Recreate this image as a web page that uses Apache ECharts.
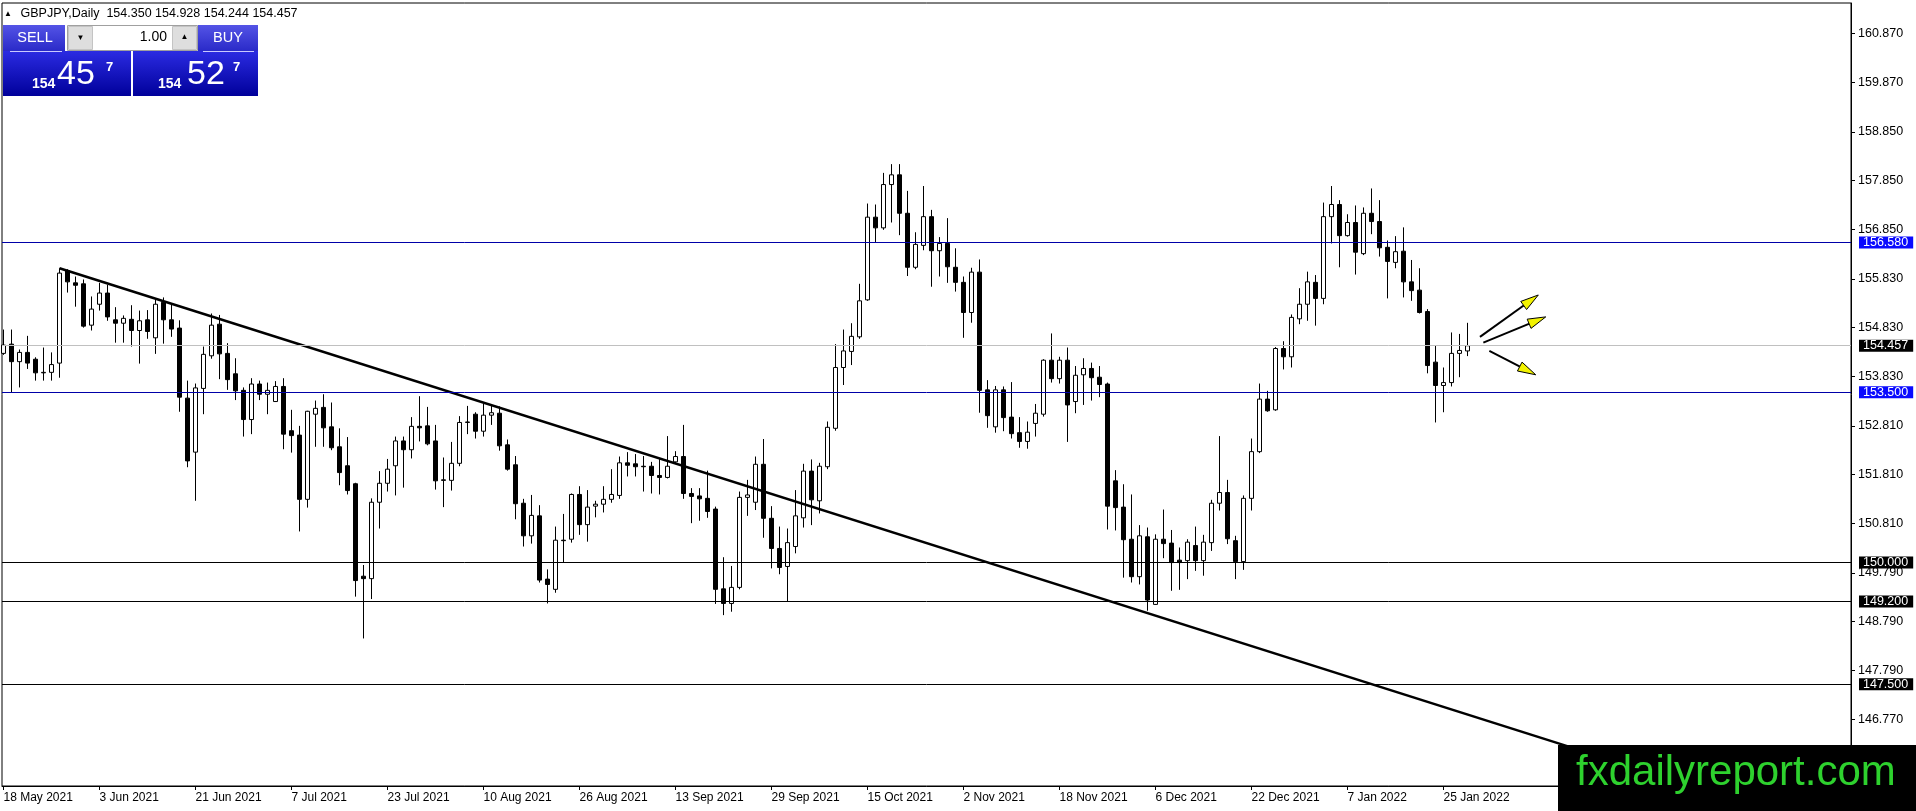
<!DOCTYPE html>
<html>
<head>
<meta charset="utf-8">
<script src="https://cdn.jsdelivr.net/npm/echarts@6/dist/echarts.min.js"></script>
<style>html,body{margin:0;padding:0;background:#fff;overflow:hidden}#chart{width:1916px;height:811px}</style>
</head>
<body>
<div id="chart"></div>
<script>
const symbolLabel = 'GBPJPY,Daily';
const xTickLabels = ['18 May 2021','3 Jun 2021','21 Jun 2021','7 Jul 2021','23 Jul 2021','10 Aug 2021','26 Aug 2021','13 Sep 2021','29 Sep 2021','15 Oct 2021','2 Nov 2021','18 Nov 2021','6 Dec 2021','22 Dec 2021','7 Jan 2022','25 Jan 2022'];
const barsPerTick = 12;
const yTickValues = [146.77,147.79,148.79,149.79,150.81,151.81,152.81,153.83,154.83,155.83,156.85,157.85,158.85,159.87,160.87];

const opens = [
154.30,154.49,154.13,154.32,154.18,153.90,153.91,154.10,156.00,155.75,
155.73,154.88,155.31,155.54,154.99,154.92,155.00,154.77,154.99,154.62,
155.35,154.99,154.82,153.38,152.27,153.58,154.25,154.90,154.30,153.88,
153.54,152.94,153.67,153.46,153.31,153.62,152.71,152.62,151.30,153.05,
153.19,152.79,152.38,151.99,151.62,149.72,149.67,151.24,151.63,151.99,
152.50,152.32,152.80,152.81,152.50,151.70,151.69,152.04,152.88,153.05,
152.70,153.03,153.07,152.42,152.01,151.22,150.55,150.96,149.66,149.45,
150.46,150.48,151.40,150.78,151.16,151.20,151.30,151.38,152.05,152.03,
151.98,151.98,151.79,151.75,152.07,152.18,151.42,151.37,151.32,151.10,
149.46,149.16,149.49,151.34,151.24,152.02,150.91,150.29,149.92,150.33,
150.92,151.88,151.27,151.97,152.76,154.01,154.34,154.64,155.40,157.10,
156.88,157.77,157.97,157.18,156.07,156.52,157.11,156.41,156.56,156.07,
155.76,155.14,155.97,153.55,152.79,153.55,152.99,152.67,152.49,152.86,
153.05,154.16,153.78,154.16,153.31,153.86,153.99,153.81,153.67,151.68,
151.14,150.48,149.71,150.53,149.14,150.48,150.40,150.05,150.04,150.35,
150.04,150.41,151.22,151.44,150.45,150.02,151.32,152.28,153.36,153.14,
154.40,154.23,155.01,155.31,155.76,155.43,157.11,157.36,156.72,156.99,
156.35,157.18,157.01,156.48,156.17,156.40,155.77,155.60,155.16,154.12,
153.64,153.70,154.30,154.350];
const highs = [
154.79,154.79,154.38,154.66,154.22,154.42,154.32,156.05,156.03,155.88,
155.82,155.47,155.75,155.71,155.25,155.08,155.29,155.18,155.19,155.41,
155.45,155.31,154.98,153.74,153.68,154.44,155.12,155.09,154.51,154.20,
153.60,153.79,153.74,153.70,153.73,153.79,153.14,152.81,153.12,153.33,
153.46,153.29,152.76,152.58,151.64,149.95,151.32,151.88,152.13,152.59,
152.59,152.99,153.42,153.20,152.83,152.16,152.48,153.01,153.22,153.09,
153.27,153.24,153.21,152.53,152.19,151.31,151.39,151.18,149.86,150.74,
151.00,151.42,151.57,151.49,151.27,151.57,151.92,152.18,152.27,152.23,
152.19,152.07,152.14,152.60,152.29,152.83,151.53,151.53,151.89,151.15,
150.11,149.93,151.46,151.70,152.18,152.54,151.16,150.74,150.70,151.49,
152.03,152.12,152.05,152.90,154.49,154.79,154.92,155.73,157.38,157.36,
158.01,158.19,158.19,157.64,156.79,157.74,157.25,156.69,157.08,156.46,
155.88,156.06,156.23,153.75,153.63,153.62,153.71,152.99,152.90,153.26,
154.18,154.71,154.23,154.42,154.04,154.20,154.11,154.04,153.70,151.90,
151.61,151.40,150.77,150.72,150.58,151.09,150.67,150.31,150.48,150.74,
150.57,151.29,152.60,151.70,150.55,151.38,152.55,153.68,153.53,154.43,
154.55,155.10,155.64,155.98,155.91,157.40,157.74,157.45,157.16,157.34,
157.30,157.69,157.45,156.62,156.71,156.89,156.22,156.05,155.21,154.47,
154.01,154.73,154.70,154.928];
const lows = [
154.27,153.50,153.60,153.98,153.74,153.74,153.74,153.80,155.55,155.26,
154.83,154.77,155.18,154.97,154.52,154.52,154.44,154.09,154.60,154.29,
154.50,154.64,153.10,151.96,151.27,153.05,154.19,153.77,153.55,153.34,
152.59,152.64,153.34,153.05,153.30,152.33,152.26,150.64,151.13,152.38,
152.38,152.31,151.59,151.40,149.30,148.44,149.25,150.70,151.46,151.38,
151.54,152.14,152.49,152.41,151.50,151.14,151.48,151.98,152.64,152.55,
152.59,152.83,152.30,151.89,150.89,150.33,150.39,149.59,149.16,149.38,
150.00,150.41,150.57,150.43,150.93,151.03,151.23,151.31,151.77,151.77,
151.46,151.42,151.40,151.73,152.04,151.31,150.81,150.86,150.92,149.15,
148.92,148.99,149.45,150.96,151.08,150.51,149.88,149.76,149.20,150.19,
150.72,150.77,151.01,151.92,152.71,153.65,154.06,154.60,155.38,156.59,
156.84,156.99,156.73,155.89,156.03,156.42,155.67,155.88,155.75,155.57,
154.62,154.93,153.08,152.77,152.67,152.70,152.55,152.36,152.34,152.59,
153.00,153.70,153.68,152.48,153.07,153.24,153.33,153.40,150.68,150.66,
149.69,149.59,149.55,149.01,149.13,150.09,149.42,149.44,149.66,149.83,
149.73,150.24,151.07,150.38,149.66,149.85,151.07,152.25,153.10,153.12,
153.97,154.01,154.90,154.97,154.87,155.31,156.56,156.07,156.70,155.92,
156.32,156.75,156.29,155.43,156.05,155.45,155.38,155.12,153.89,152.88,
153.09,153.62,153.81,154.244];
const closes = [
154.47,154.13,154.32,154.10,153.90,153.91,154.07,155.95,155.77,155.70,
154.86,155.21,155.54,155.05,154.92,155.02,154.77,154.97,154.75,155.31,
154.99,154.80,153.40,152.09,153.59,154.28,154.88,154.29,153.76,153.53,
152.94,153.67,153.46,153.54,153.62,152.64,152.61,151.30,153.11,153.17,
152.77,152.36,151.85,151.48,149.63,149.67,151.24,151.63,151.92,152.50,
152.32,152.80,152.77,152.44,151.68,151.69,152.04,152.88,152.89,152.70,
153.03,153.08,152.40,151.92,151.21,150.55,150.97,149.64,149.55,150.46,
150.45,151.40,150.78,151.14,151.20,151.30,151.40,152.05,152.00,151.97,
151.97,151.79,151.75,151.98,152.18,151.42,151.36,151.31,151.05,149.45,
149.16,149.49,151.34,151.39,152.02,150.91,150.29,149.90,150.41,150.96,
151.88,151.29,151.98,152.78,154.01,154.35,154.65,155.38,157.10,156.88,
157.77,157.97,157.18,156.07,156.54,157.11,156.41,156.56,156.08,155.76,
155.14,155.97,153.54,153.02,153.55,152.98,152.65,152.49,152.68,153.07,
154.16,153.78,154.16,153.24,153.85,153.99,153.80,153.66,151.16,151.13,
150.47,149.71,150.55,149.23,150.48,150.39,150.00,150.00,150.42,150.04,
150.42,151.22,151.44,150.49,150.02,151.32,152.28,153.36,153.12,154.40,
154.23,155.04,155.31,155.77,155.43,157.11,157.36,156.72,156.99,156.38,
157.18,157.01,156.47,156.19,156.39,155.77,155.59,155.14,154.05,153.64,
153.70,154.30,154.36,154.457];

const trendline = [[7, 156.05], [200, 145.99]];
const arrows = [
  [184.56, 154.64, 191.85, 155.50],
  [184.98, 154.52, 192.78, 155.05],
  [185.73, 154.35, 191.53, 153.86]
];
const blueLevels = [156.58, 153.5];
const blackLevels = [150.0, 149.2, 147.5];
const bidPrice = 154.457;
const askPrice = 154.527;
const lotSize = '1.00';
const watermark = 'fxdailyreport.com';

const FONT = '"Liberation Sans", Arial, sans-serif';
const candleData = opens.map((o, i) => [i, o, closes[i], lows[i], highs[i]]);
const xTickIdx = xTickLabels.map((_, i) => i * barsPerTick);
const last = opens.length - 1;
const headerText = symbolLabel + '  ' + [opens[last], highs[last], lows[last], closes[last]].map(v => v.toFixed(3)).join(' ');

function grad(a, b) {
  return new echarts.graphic.LinearGradient(0, 0, 0, 1, [{offset: 0, color: a}, {offset: 1, color: b}]);
}
function txt(x, y, text, size, opts) {
  opts = opts || {};
  return {type: 'text', x: x, y: y, z: 100, silent: true, style: {
    text: text, fill: opts.fill || '#fff',
    font: (opts.bold ? 'bold ' : '') + size + 'px ' + FONT,
    align: opts.align || 'left', textAlign: opts.align || 'left',
    verticalAlign: 'middle', textVerticalAlign: 'middle'
  }};
}
function rect(x, y, w, h, fill, stroke) {
  return {type: 'rect', z: 99, silent: true, shape: {x: x, y: y, width: w, height: h},
    style: {fill: fill, stroke: stroke || null, lineWidth: stroke ? 1 : 0}};
}
function priceParts(p) {
  const s = p.toFixed(3);
  return [s.slice(0, 3), s.slice(4, 6), s.slice(6)];
}
const bidP = priceParts(bidPrice), askP = priceParts(askPrice);

const graphics = [
  txt(8, 14, '▲', 8, {fill: '#000', align: 'center'}),
  txt(20.5, 14, headerText, 12.5, {fill: '#000'}),
  rect(3, 25, 62, 26, grad('#5454e6', '#2a2ac8')),
  rect(198, 25, 60, 26, grad('#5454e6', '#2a2ac8')),
  rect(3, 51, 128, 45, grad('#2b2be2', '#00009a')),
  rect(133, 51, 125, 45, grad('#2b2be2', '#00009a')),
  {type: 'line', z: 100, silent: true, shape: {x1: 10, y1: 51.5, x2: 62, y2: 51.5}, style: {stroke: '#c8c8ff', lineWidth: 1}},
  {type: 'line', z: 100, silent: true, shape: {x1: 203, y1: 51.5, x2: 254, y2: 51.5}, style: {stroke: '#c8c8ff', lineWidth: 1}},
  rect(67.5, 25.5, 130, 25, '#ffffff', '#a0a0a0'),
  rect(68.5, 26.5, 24, 23, '#dedede', '#c4c4c4'),
  rect(172.5, 26.5, 24, 23, '#dedede', '#c4c4c4'),
  txt(80.5, 38, '▼', 8, {fill: '#000', align: 'center'}),
  txt(184.5, 37, '▲', 8, {fill: '#000', align: 'center'}),
  txt(167, 37, lotSize, 14, {fill: '#000', align: 'right'}),
  txt(35, 38, 'SELL', 14.5, {align: 'center'}),
  txt(228, 38, 'BUY', 14.5, {align: 'center'}),
  txt(32, 84, bidP[0], 14, {bold: true}),
  txt(57, 75, bidP[1], 34),
  txt(106, 67, bidP[2], 13, {bold: true}),
  txt(158, 84, askP[0], 14, {bold: true}),
  txt(187, 75, askP[1], 34),
  txt(233, 67, askP[2], 13, {bold: true}),
  rect(1558, 745, 358, 66, '#000000'),
  txt(1576, 773, watermark, 42, {fill: '#2ed12e'})
];

const lineLabel = {
  show: true, position: 'end', distance: 8, color: '#fff',
  fontFamily: FONT, fontSize: 12.5, lineHeight: 12, padding: [0, 5, 0, 4],
  formatter: p => Number(p.data && p.data.yAxis != null ? p.data.yAxis : p.value).toFixed(3)
};
const levelLines = [].concat(
  blueLevels.map(v => ({yAxis: v, lineStyle: {color: '#0000a8', width: 1, type: 'solid'}, label: Object.assign({}, lineLabel, {backgroundColor: '#0a0aff'})})),
  [{yAxis: bidPrice, lineStyle: {color: '#c0c0c0', width: 1, type: 'solid'}, label: Object.assign({}, lineLabel, {backgroundColor: '#000'})}],
  blackLevels.map(v => ({yAxis: v, lineStyle: {color: '#000', width: 1, type: 'solid'}, label: Object.assign({}, lineLabel, {backgroundColor: '#000'})}))
);

const chart = echarts.init(document.getElementById('chart'), null, {renderer: 'canvas'});
chart.setOption({
  animation: false,
  backgroundColor: '#fff',
  grid: {left: 2, top: 3, width: 1849, height: 783, show: true, borderColor: '#000', borderWidth: 1, backgroundColor: '#fff', containLabel: false},
  xAxis: {
    type: 'value', min: -0.1875, max: 230.9375,
    axisLine: {show: true, onZero: false, lineStyle: {color: '#000', width: 1}},
    axisTick: {show: true, customValues: xTickIdx, length: 4, lineStyle: {color: '#000'}},
    axisLabel: {customValues: xTickIdx, formatter: v => xTickLabels[Math.round(v / barsPerTick)] || '',
      align: 'left', margin: 6, color: '#000', fontFamily: FONT, fontSize: 12},
    splitLine: {show: false}
  },
  yAxis: {
    type: 'value', position: 'right', min: 145.4075, max: 161.502,
    axisLine: {show: true, onZero: false, lineStyle: {color: '#000', width: 1}},
    axisTick: {show: true, customValues: yTickValues, length: 4, lineStyle: {color: '#000'}},
    axisLabel: {customValues: yTickValues, formatter: v => v.toFixed(3), margin: 7, color: '#000', fontFamily: FONT, fontSize: 12.5},
    splitLine: {show: false}
  },
  series: [
    {
      type: 'candlestick', data: candleData, barWidth: 4, silent: true,
      itemStyle: {color: '#fff', color0: '#000', borderColor: '#000', borderColor0: '#000', borderColorDoji: '#000', borderWidth: 1},
      markLine: {silent: true, precision: 3, symbol: ['none', 'none'], animation: false, data: levelLines}
    },
    {
      type: 'line', data: trendline, symbol: 'none', silent: true,
      lineStyle: {color: '#000', width: 2.5}, z: 4
    },
    {
      type: 'custom', data: arrows, silent: true, z: 6,
      encode: {x: [0, 2], y: [1, 3]},
      renderItem: function (params, api) {
        const s = api.coord([api.value(0), api.value(1)]);
        const t = api.coord([api.value(2), api.value(3)]);
        const dx = t[0] - s[0], dy = t[1] - s[1];
        const len = Math.sqrt(dx * dx + dy * dy);
        const ux = dx / len, uy = dy / len;
        const hl = 18, hw = 5;
        const bx = t[0] - ux * hl, by = t[1] - uy * hl;
        return {type: 'group', children: [
          {type: 'line', shape: {x1: s[0], y1: s[1], x2: bx + ux * 3, y2: by + uy * 3}, style: {stroke: '#000', lineWidth: 2}},
          {type: 'polygon', shape: {points: [[t[0], t[1]], [bx - uy * hw, by + ux * hw], [bx + uy * hw, by - ux * hw]]},
            style: {fill: '#f2f200', stroke: '#000', lineWidth: 1}}
        ]};
      }
    }
  ],
  graphic: graphics
});
</script>
</body>
</html>
